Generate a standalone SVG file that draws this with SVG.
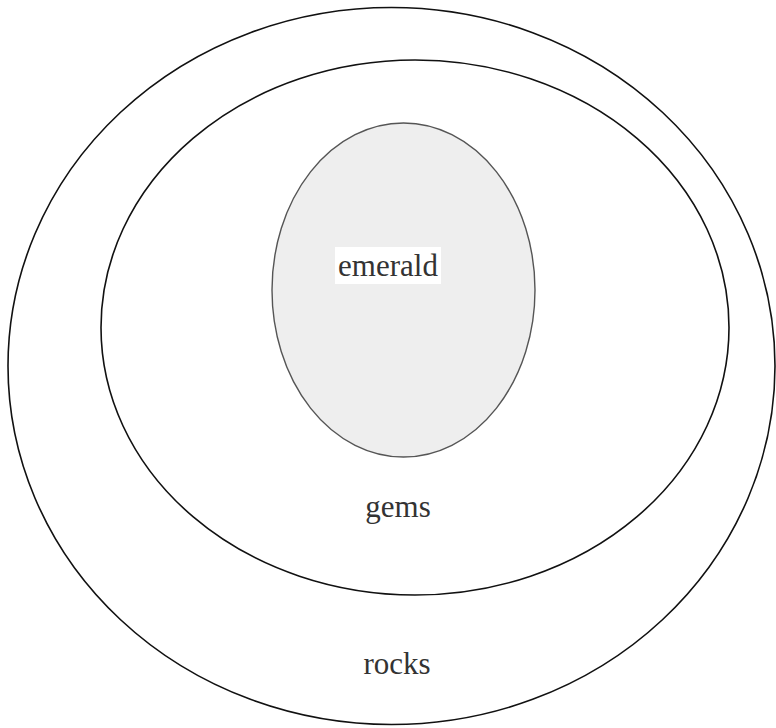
<svg xmlns="http://www.w3.org/2000/svg" width="776" height="728" viewBox="0 0 776 728">
<style>
.ring{fill:none;stroke:#111;stroke-width:1.6}
.lbl{font-family:"Liberation Serif","Times New Roman",serif;font-size:31px;fill:#333;text-anchor:middle}
</style>
<rect width="776" height="728" fill="#fff"/>
<g id="rocks">
<ellipse class="ring" cx="391.5" cy="366" rx="383.5" ry="358.5"/>
<text class="lbl" x="397" y="674">rocks</text>
</g>
<g id="gems">
<ellipse class="ring" cx="415" cy="327.5" rx="314" ry="267.5"/>
<text class="lbl" x="398" y="517">gems</text>
</g>
<g id="emerald">
<ellipse cx="403.5" cy="290" rx="131.5" ry="167" fill="#eeeeee" stroke="#555" stroke-width="1.4"/>
<rect x="335" y="247" width="106" height="37" fill="#fff"/>
<text class="lbl" x="388" y="276">emerald</text>
</g>
<g id="connectors"/>
</svg>
